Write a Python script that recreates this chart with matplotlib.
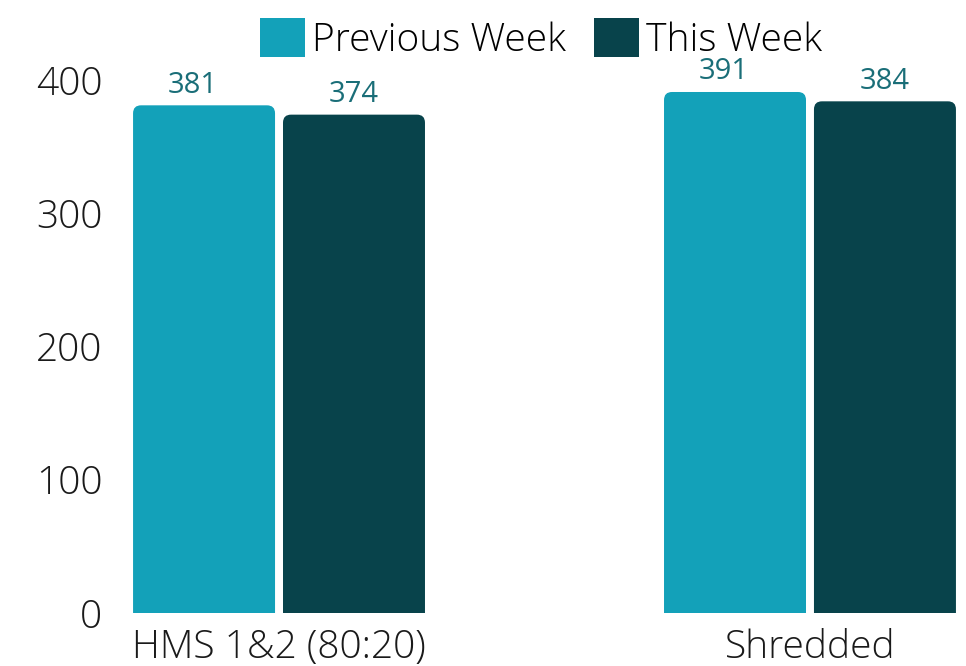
import matplotlib
matplotlib.use("Agg")
import matplotlib.pyplot as plt
from matplotlib.patches import FancyBboxPatch, Patch
import numpy as np

# Data
categories = ["HMS 1&2 (80:20)", "Shredded"]
series_names = ["Previous Week", "This Week"]
previous_week = [381, 391]
this_week = [374, 384]
colors = ["#13A1B9", "#08434B"]
label_color = "#1A6E78"

plt.rcParams["font.family"] = ["Open Sans", "DejaVu Sans"]

W, H = 966, 666
fig = plt.figure(figsize=(W / 100, H / 100), dpi=100)
ax = fig.add_axes([133 / W, (H - 613) / H, 823 / W, 533 / H])

x = np.arange(len(categories))
width = 0.2674
offset = 0.1412
ax.set_xlim(-0.275, 1.275)
ax.set_ylim(0, 400)

# rounded top corners: px per unit in x and y
px_x = 531.0
px_y = 533.0 / 400
r_px = 8
r_x = r_px / px_x
aspect = (r_px / px_y) / r_x

# previous-week labels sit a bit left of bar centre in the original
for vals, off, col, dx in [(previous_week, -offset, colors[0], -8),
                           (this_week, offset, colors[1], 0)]:
    for xi, v in zip(x, vals):
        p = FancyBboxPatch((xi + off - width / 2, -20), width, v + 20,
                           boxstyle=f"round,pad=0,rounding_size={r_x}",
                           mutation_aspect=aspect, facecolor=col,
                           edgecolor="none", clip_on=True)
        ax.add_patch(p)
        ax.annotate(str(v), (xi + off, v), xytext=(dx, 4), textcoords="offset points",
                    ha="center", va="bottom", fontsize=21, color=label_color,
                    annotation_clip=False)

ax.set_xticks(x)
ax.set_xticklabels(categories, fontsize=28, fontweight="light", color="#1a1a1a")
ax.set_yticks([0, 100, 200, 300, 400])
ax.set_yticklabels(["0", "100", "200", "300", "400"], fontsize=28,
                   fontweight="light", color="#1a1a1a")
ax.tick_params(axis="both", length=0)
ax.tick_params(axis="y", pad=22)
ax.tick_params(axis="x", pad=11)
for s in ax.spines.values():
    s.set_visible(False)

handles = [Patch(facecolor=c, edgecolor="none") for c in colors]
fig.legend(handles, series_names, loc="center", bbox_to_anchor=(541 / W, 1 - 39 / H),
           ncol=2, frameon=False, prop={"weight": "light", "size": 28},
           handlelength=1.18, handleheight=1.18, handletextpad=0.18,
           columnspacing=0.7, borderpad=0, borderaxespad=0)

fig.savefig("out.png", dpi=100)
